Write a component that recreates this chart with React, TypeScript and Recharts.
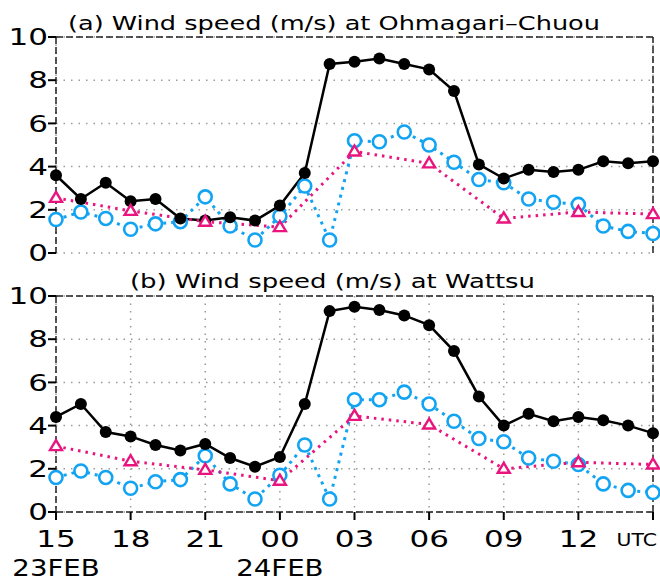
import React from "react";
import {
  LineChart,
  Line,
  XAxis,
  YAxis,
  CartesianGrid,
  ReferenceLine,
} from "recharts";

// hourly steps from 15 UTC 23FEB to 15 UTC 24FEB
const hours = [
  "15", "16", "17", "18", "19", "20", "21", "22", "23", "00", "01", "02", "03",
  "04", "05", "06", "07", "08", "09", "10", "11", "12", "13", "14", "15",
];
const xTicks = [0, 3, 6, 9, 12, 15, 18, 21, 24];
const xTickLabels = ["15", "18", "21", "00", "03", "06", "09", "12", "UTC"];
// second label line, keyed by position in xTicks
const dateLabels: Record<number, string> = { 0: "23FEB", 3: "24FEB" };
const yTicks = [0, 2, 4, 6, 8, 10];

// (a) Ohmagari-Chuou
const ohmaObs = [
  3.6, 2.5, 3.25, 2.4, 2.5, 1.6, 1.5, 1.65, 1.5, 2.2, 3.7, 8.75, 8.85, 9.0,
  8.75, 8.5, 7.5, 4.1, 3.45, 3.85, 3.75, 3.85, 4.25, 4.15, 4.25,
];
const ohmaModel = [
  1.55, 1.9, 1.6, 1.1, 1.35, 1.45, 2.6, 1.25, 0.6, 1.7, 3.1, 0.6, 5.2, 5.15,
  5.6, 5.0, 4.2, 3.4, 3.25, 2.5, 2.35, 2.25, 1.25, 1.0, 0.9,
];
const ohma3h = [2.55, 1.95, 1.45, 1.2, 4.7, 4.15, 1.6, 1.9, 1.8];

// (b) Wattsu
const wattObs = [
  4.4, 5.0, 3.7, 3.5, 3.1, 2.85, 3.15, 2.5, 2.1, 2.55, 5.0, 9.3, 9.5, 9.35,
  9.1, 8.65, 7.45, 5.35, 4.0, 4.55, 4.2, 4.4, 4.25, 4.0, 3.65,
];
const wattModel = [
  1.6, 1.9, 1.6, 1.1, 1.4, 1.5, 2.6, 1.3, 0.6, 1.7, 3.1, 0.6, 5.2, 5.2, 5.55,
  5.0, 4.2, 3.4, 3.25, 2.5, 2.35, 2.2, 1.3, 1.0, 0.9,
];
const watt3h = [3.05, 2.35, 1.95, 1.45, 4.45, 4.05, 2.0, 2.3, 2.2];

const BLACK = "#000";
const CYAN = "#12a4f2";
const PINK = "#e8157f";
const FONT = "'DejaVu Sans', sans-serif";
const FRAME_DASH = "7 3";

const buildRows = (obs: number[], model: number[], every3: number[]) =>
  hours.map((h, i) => ({
    t: i,
    hour: h,
    obs: obs[i],
    model: model[i],
    every3: i % 3 === 0 ? every3[i / 3] : null,
  }));

const BlackDot = (p: any) =>
  p.cx == null || p.cy == null ? (
    <g key={p.index} />
  ) : (
    <circle key={p.index} cx={p.cx} cy={p.cy} r={6} fill={BLACK} />
  );

const CyanDot = (p: any) =>
  p.cx == null || p.cy == null ? (
    <g key={p.index} />
  ) : (
    <circle
      key={p.index}
      cx={p.cx}
      cy={p.cy}
      r={6.5}
      fill="#fff"
      stroke={CYAN}
      strokeWidth={2.6}
    />
  );

const TriDot = (p: any) =>
  p.cx == null || p.cy == null || p.value == null ? (
    <g key={p.index} />
  ) : (
    <path
      key={p.index}
      d={`M${p.cx},${p.cy - 6} L${p.cx - 6},${p.cy + 4} L${p.cx + 6},${p.cy + 4} Z`}
      fill="#fff"
      stroke={PINK}
      strokeWidth={2.4}
      strokeLinejoin="miter"
    />
  );

const YTick = (p: any) => (
  <text
    transform={`translate(${p.x + 1},${p.y}) scale(1.35,1)`}
    textAnchor="end"
    dy="0.36em"
    fontSize={23}
    fontFamily={FONT}
    fill="#000"
  >
    {p.payload.value}
  </text>
);

const XTick = (p: any) => {
  const i = xTicks.indexOf(p.payload.value);
  const label = xTickLabels[i];
  const date = dateLabels[i];
  if (label === "UTC") {
    return (
      <text
        transform={`translate(${p.x + 4},${p.y + 24}) scale(1.2,1)`}
        textAnchor="end"
        fontSize={17}
        fontFamily={FONT}
        fill="#000"
      >
        {label}
      </text>
    );
  }
  return (
    <g>
      <text
        transform={`translate(${p.x},${p.y + 25}) scale(1.35,1)`}
        textAnchor="middle"
        fontSize={23}
        fontFamily={FONT}
        fill="#000"
      >
        {label}
      </text>
      {date && (
        <text
          transform={`translate(${p.x},${p.y + 54}) scale(1.2,1)`}
          textAnchor="middle"
          fontSize={23}
          fontFamily={FONT}
          fill="#000"
        >
          {date}
        </text>
      )}
    </g>
  );
};

function Panel({
  rows,
  showX,
  height,
  top,
  bottom,
}: {
  rows: any[];
  showX: boolean;
  height: number;
  top: number;
  bottom: number;
}) {
  return (
    <LineChart
      width={660}
      height={height}
      data={rows}
      margin={{ top, right: 7, bottom, left: 0 }}
    >
      <CartesianGrid
        stroke="#9a9a9a"
        strokeWidth={1.5}
        strokeDasharray="1.5 6"
      />
      <XAxis
        dataKey="t"
        type="number"
        domain={[0, 24]}
        ticks={xTicks}
        interval={0}
        height={showX ? 71 : 0}
        tick={showX ? <XTick /> : false}
        tickLine={showX ? { stroke: BLACK, strokeWidth: 2 } : false}
        tickSize={8}
        axisLine={{ stroke: "#222", strokeWidth: 1.5, strokeDasharray: FRAME_DASH }}
      />
      <YAxis
        type="number"
        domain={[0, 10]}
        ticks={yTicks}
        interval={0}
        width={56}
        tick={<YTick />}
        tickSize={8}
        tickMargin={1}
        tickLine={{ stroke: BLACK, strokeWidth: 2 }}
        axisLine={{ stroke: "#222", strokeWidth: 1.5, strokeDasharray: FRAME_DASH }}
      />
      <ReferenceLine y={10} stroke="#222" strokeWidth={1.5} strokeDasharray={FRAME_DASH} />
      <ReferenceLine x={24} stroke="#222" strokeWidth={1.5} strokeDasharray={FRAME_DASH} />
      <Line
        dataKey="model"
        stroke={CYAN}
        strokeWidth={3}
        strokeDasharray="3 5"
        dot={CyanDot}
        isAnimationActive={false}
      />
      <Line
        dataKey="obs"
        stroke={BLACK}
        strokeWidth={2.5}
        dot={BlackDot}
        isAnimationActive={false}
      />
      <Line
        dataKey="every3"
        stroke={PINK}
        strokeWidth={3}
        strokeDasharray="2.5 5"
        connectNulls
        dot={TriDot}
        isAnimationActive={false}
      />
    </LineChart>
  );
}

export default function App() {
  const rowsA = buildRows(ohmaObs, ohmaModel, ohma3h);
  const rowsB = buildRows(wattObs, wattModel, watt3h);

  return (
    <div
      style={{
        position: "absolute",
        left: 0,
        top: 0,
        width: 660,
        height: 583,
        background: "#fff",
        overflow: "hidden",
      }}
    >
      <div style={{ position: "absolute", left: 0, top: 0 }}>
        <Panel rows={rowsA} showX={false} height={275} top={37} bottom={22} />
      </div>
      <div style={{ position: "absolute", left: 0, top: 260 }}>
        <Panel rows={rowsB} showX={true} height={323} top={36} bottom={0} />
      </div>
      <svg
        width={660}
        height={583}
        style={{ position: "absolute", left: 0, top: 0, pointerEvents: "none" }}
      >
        <text
          x={68}
          y={30}
          fontSize={20}
          fontFamily={FONT}
          textLength={532}
          lengthAdjust="spacingAndGlyphs"
          fill="#000"
        >
          (a) Wind speed (m/s) at Ohmagari–Chuou
        </text>
        <text
          x={130}
          y={288}
          fontSize={20}
          fontFamily={FONT}
          textLength={405}
          lengthAdjust="spacingAndGlyphs"
          fill="#000"
        >
          (b) Wind speed (m/s) at Wattsu
        </text>
      </svg>
    </div>
  );
}
